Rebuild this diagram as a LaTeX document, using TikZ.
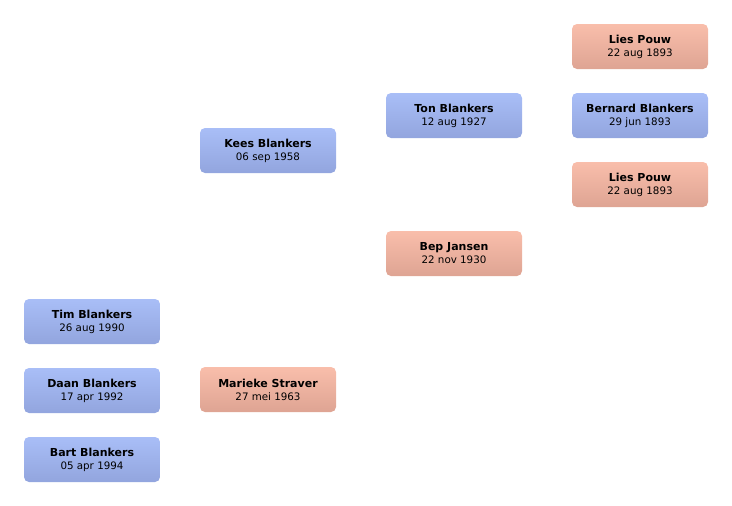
\documentclass[tikz,border=0pt]{standalone}
\usepackage{fontspec}
\setmainfont{DejaVu Sans}
\definecolor{maletop}{HTML}{A9BEF7}
\definecolor{malebot}{HTML}{92A5DE}
\definecolor{femaletop}{HTML}{F9BEAB}
\definecolor{femalebot}{HTML}{DEA493}
\newcommand{\pname}[2]{{\fontsize{11}{13}\selectfont\bfseries #1}\\[1pt]{\fontsize{10.3}{12}\selectfont #2}}

\begin{document}
\begin{tikzpicture}[
		x=1pt,
		y=-1pt,
		person/.style={rounded corners=5pt,minimum width=136pt,minimum height=45pt,align=center,inner sep=0pt},
		male/.style={person,top color=maletop,bottom color=malebot},
		female/.style={person,top color=femaletop,bottom color=femalebot}
	]

		\useasboundingbox (0, 0) rectangle (732, 506);

		% Children
		\node[male] (tim) at (92, 321.5) {\pname{Tim Blankers}{26 aug 1990}};
		\node[male] (daan) at (92, 390.5) {\pname{Daan Blankers}{17 apr 1992}};
		\node[male] (bart) at (92, 459.5) {\pname{Bart Blankers}{05 apr 1994}};

		% Parents
		\node[male] (kees) at (268, 150.5) {\pname{Kees Blankers}{06 sep 1958}};
		\node[female] (marieke) at (268, 389.5) {\pname{Marieke Straver}{27 mei 1963}};

		% Grandparents
		\node[male] (ton) at (454, 115.5) {\pname{Ton Blankers}{12 aug 1927}};
		\node[female] (bep) at (454, 253.5) {\pname{Bep Jansen}{22 nov 1930}};

		% Great-grandparents
		\node[female] (lies1) at (640, 46.5) {\pname{Lies Pouw}{22 aug 1893}};
		\node[male] (bernard) at (640, 115.5) {\pname{Bernard Blankers}{29 jun 1893}};
		\node[female] (lies2) at (640, 184.5) {\pname{Lies Pouw}{22 aug 1893}};
	\end{tikzpicture}
\end{document}
